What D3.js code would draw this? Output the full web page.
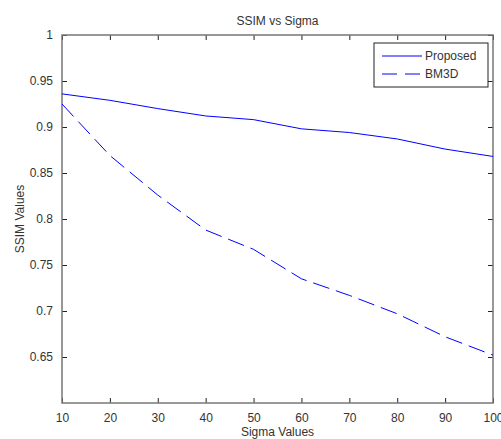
<!DOCTYPE html>
<html lang="en">
<head>
<meta charset="UTF-8">
<script src="https://cdn.jsdelivr.net/npm/d3@7/dist/d3.min.js"></script>
<title>SSIM vs Sigma</title>
<style>
    body { margin: 0; background: #fff; }
    text { font-family: "Liberation Sans", Arial, sans-serif; }
</style>
</head>
<body>
<div id="viz"></div>
<script>
    // values
    const sigmas = [10, 20, 30, 40, 50, 60, 70, 80, 90, 100]
    const proposed = [0.936, 0.929, 0.920, 0.912, 0.908, 0.898, 0.894, 0.887, 0.876, 0.868]
    const bm3d = [0.925, 0.869, 0.826, 0.788, 0.767, 0.735, 0.717, 0.697, 0.672, 0.652]
    const xTicks = [10, 20, 30, 40, 50, 60, 70, 80, 90, 100]
    const yTicks = [0.65, 0.7, 0.75, 0.8, 0.85, 0.9, 0.95, 1]

    const fullWidth = 501
    const fullHeight = 439
    const margins = { top: 35, right: 8, bottom: 36, left: 62 }
    const width = fullWidth - margins.left - margins.right
    const height = fullHeight - margins.top - margins.bottom

    const svg = d3.select("#viz").append("svg")
        .attr("width", fullWidth)
        .attr("height", fullHeight)

    const g = svg.append("g")
        .attr("transform", `translate(${margins.left},${margins.top})`)

    const xScale = d3.scaleLinear().domain([10, 100]).range([0, width])
    const yScale = d3.scaleLinear().domain([0.6, 1]).range([height, 0])

    const textColor = "#333"
    const axisColor = "#777"

    // axes, MATLAB style: ticks pointing in, mirrored on top and right
    function styleAxis(sel) {
        sel.select(".domain").remove()
        sel.selectAll(".tick line").attr("stroke", "#222").attr("stroke-width", 1)
        sel.selectAll(".tick text")
            .attr("fill", textColor)
            .style("font-size", "12px")
    }

    g.append("g")
        .attr("transform", `translate(0,${height})`)
        .call(d3.axisBottom(xScale).tickValues(xTicks).tickSizeInner(-5).tickSizeOuter(0).tickPadding(10))
        .call(styleAxis)
    g.append("g")
        .call(d3.axisTop(xScale).tickValues(xTicks).tickSizeInner(-5).tickSizeOuter(0).tickFormat(""))
        .call(styleAxis)
    g.append("g")
        .call(d3.axisLeft(yScale).tickValues(yTicks).tickSizeInner(-5).tickSizeOuter(0).tickPadding(9).tickFormat(d3.format("")))
        .call(styleAxis)
    g.append("g")
        .attr("transform", `translate(${width},0)`)
        .call(d3.axisRight(yScale).tickValues(yTicks).tickSizeInner(-5).tickSizeOuter(0).tickFormat(""))
        .call(styleAxis)

    // frame
    g.append("rect")
        .attr("x", 0).attr("y", 0)
        .attr("width", width).attr("height", height)
        .attr("fill", "none")
        .attr("stroke", axisColor)
        .attr("stroke-width", 1.5)

    const line = d3.line()
        .x((d, i) => xScale(sigmas[i]))
        .y(d => yScale(d))

    g.append("path")
        .datum(proposed)
        .attr("d", line)
        .attr("fill", "none")
        .attr("stroke", "#0000ff")
        .attr("stroke-width", 1)

    g.append("path")
        .datum(bm3d)
        .attr("d", line)
        .attr("fill", "none")
        .attr("stroke", "#0000ff")
        .attr("stroke-width", 1)
        .attr("stroke-dasharray", "17,7")

    // legend
    const legend = svg.append("g").attr("transform", "translate(374,43)")
    legend.append("rect")
        .attr("width", 114).attr("height", 44)
        .attr("fill", "#fff")
        .attr("stroke", "#222")
        .attr("stroke-width", 1)
    const items = [["Proposed", null], ["BM3D", "15,8"]]
    items.forEach((it, i) => {
        const y = 13 + i * 18
        legend.append("line")
            .attr("x1", 8).attr("x2", 48)
            .attr("y1", y).attr("y2", y)
            .attr("stroke", "#0000ff")
            .attr("stroke-dasharray", it[1])
        legend.append("text")
            .attr("x", 51).attr("y", y + 4)
            .attr("fill", textColor)
            .style("font-size", "12px")
            .text(it[0])
    })

    // titles
    svg.append("text")
        .attr("x", margins.left + width / 2).attr("y", 25)
        .attr("text-anchor", "middle")
        .attr("fill", textColor)
        .style("font-size", "12px")
        .text("SSIM vs Sigma")
    svg.append("text")
        .attr("x", margins.left + width / 2).attr("y", 436)
        .attr("text-anchor", "middle")
        .attr("fill", textColor)
        .style("font-size", "12px")
        .text("Sigma Values")
    svg.append("text")
        .attr("transform", `translate(24,${margins.top + height / 2}) rotate(-90)`)
        .attr("text-anchor", "middle")
        .attr("fill", textColor)
        .style("font-size", "12px")
        .text("SSIM Values")
</script>
</body>
</html>
